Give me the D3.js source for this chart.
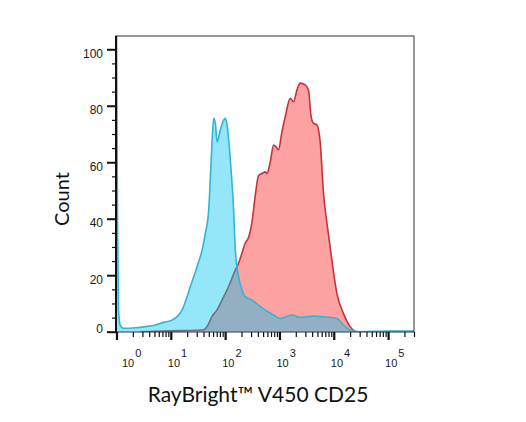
<!DOCTYPE html>
<html>
<head>
<meta charset="utf-8">
<script src="https://cdn.jsdelivr.net/npm/d3@7"></script>
<style>
  html, body { margin: 0; padding: 0; background: #fff; }
  svg { display: block; }
  .ticklbl { font-family: "Liberation Sans", Arial, sans-serif; }
</style>
</head>
<body>
<svg id="chart" width="526" height="422"></svg>
<script>
// ---- data ----
const cyanIntensity = [1, 1.043, 1.088, 1.184, 1.346, 1.462, 2.234, 3.412, 5.21, 7.31, 10.57, 16.14, 18.5, 22.9, 30.4, 37.6, 43.3, 49.8, 53.5, 57.4, 61.5, 66.1, 71.0, 81.7, 93.8, 100.9, 108.4, 124.7, 143.2, 154.2, 177.0, 204.6, 235.0, 311.9, 443.6, 779.8, 1035, 1698, 2410, 4236, 6950, 11400, 15070, 20000, 30550, 100000, 300000];
const cyanCount = [110, 40, 8, 2, 1.2, 1.2, 1.4, 1.8, 2.4, 3.3, 4.1, 7.7, 10.6, 16.0, 23.0, 28.9, 34.8, 43.1, 54.9, 66.8, 75.6, 73.8, 67.2, 71.5, 74.9, 75.6, 73.2, 60.8, 43.1, 28.9, 19.5, 14.8, 12.4, 11.2, 8.9, 5.9, 4.7, 5.9, 5.1, 5.5, 5.2, 4.7, 2.4, 0.6, 0, 0.2, 0.2];
const redIntensity = [2.76, 9.84, 28.3, 39.7, 47.1, 57.4, 71.0, 87.7, 115.9, 154.2, 177, 204.6, 235, 270.4, 311.9, 358.9, 413, 476.4, 548.3, 588.8, 677.5, 779.8, 873, 961.6, 1112, 1279, 1581, 1816, 2099, 2410, 2979, 3428, 3793, 4236, 4887, 5623, 6471, 7656, 9226, 11400, 15070, 20000, 26610, 46670];
const redCount = [0, 0.3, 0.5, 0.6, 2.0, 5.4, 7.7, 11.2, 16.0, 21.9, 24.3, 27.9, 31.4, 33.4, 38.8, 48.3, 55.3, 56.0, 56.6, 56.0, 60.1, 66.1, 65.4, 64.4, 70.8, 76.1, 82.6, 81.4, 85.6, 88.0, 87.4, 85.6, 76.7, 73.8, 73.2, 67.2, 49.0, 37.1, 25.3, 13.6, 6.5, 1.8, 0, 0];
const yMajorTicks = [0, 20, 40, 60, 80, 100];
const yMinorTicks = [5, 10, 15, 25, 30, 35, 45, 50, 55, 65, 70, 75, 85, 90, 95];
const xDecades = [0, 1, 2, 3, 4, 5];
const xLabel = "RayBright™ V450 CD25";
const yLabel = "Count";

// ---- layout ----
const svg = d3.select("#chart");
const plot = { left: 116, right: 414, top: 36, bottom: 332 };

const x = d3.scaleLog().domain([1, 300000]).range([116.5, 414]);
const y = d3.scaleLinear().domain([0, 104.7]).range([331.7, 36]);

const xMajor = xDecades.map(d => Math.pow(10, d));
const xMinor = [];
xDecades.forEach(d => {
  for (let m = 2; m <= 9; m++) {
    const v = m * Math.pow(10, d);
    if (v <= 300000) xMinor.push(v);
  }
});

svg.append("defs").append("clipPath").attr("id", "clip")
  .append("rect")
  .attr("x", plot.left).attr("y", plot.top)
  .attr("width", plot.right - plot.left).attr("height", plot.bottom - plot.top);

const cyanData = cyanIntensity.map((v, i) => ({ v, c: cyanCount[i] }));
const redData = redIntensity.map((v, i) => ({ v, c: redCount[i] }));

const area = d3.area().x(d => x(d.v)).y0(y(0)).y1(d => y(d.c)).curve(d3.curveMonotoneX);
const line = d3.line().x(d => x(d.v)).y(d => y(d.c)).curve(d3.curveMonotoneX);

const g = svg.append("g").attr("clip-path", "url(#clip)");
g.append("path").datum(redData).attr("d", area).attr("fill", "#fda2a2");
g.append("path").datum(redData).attr("d", line).attr("fill", "none")
  .attr("stroke", "#c8323e").attr("stroke-width", 1.6);
g.append("path").datum(cyanData).attr("d", area).attr("fill", "rgba(0,195,238,0.42)");
g.append("path").datum(cyanData).attr("d", line).attr("fill", "none")
  .attr("stroke", "#33b4d6").attr("stroke-width", 1.6);

// frame
svg.append("rect")
  .attr("x", plot.left).attr("y", plot.top)
  .attr("width", plot.right - plot.left).attr("height", plot.bottom - plot.top)
  .attr("fill", "none").attr("stroke", "#333").attr("stroke-width", 1);

// ---- y axis ----
const yAxisMinor = svg.append("g").attr("transform", `translate(${plot.left},0)`)
  .call(d3.axisLeft(y).tickValues(yMinorTicks).tickSize(4).tickFormat(""));
const yAxisMajor = svg.append("g").attr("transform", `translate(${plot.left},0)`)
  .call(d3.axisLeft(y).tickValues(yMajorTicks).tickSize(9).tickFormat(""));
[yAxisMinor, yAxisMajor].forEach(a => {
  a.select(".domain").remove();
  a.selectAll("line").attr("stroke", "#111");
  a.attr("font-family", "Liberation Sans, Arial, sans-serif");
});
yAxisMinor.selectAll("line").attr("stroke-width", 1.2);
yAxisMajor.selectAll("line").attr("stroke-width", 2);
yAxisMajor.selectAll(".tick").append("text")
  .attr("class", "ticklbl")
  .attr("x", -13)
  .attr("y", d => d === 0 ? -3 : 4)
  .attr("dy", "0.35em")
  .attr("text-anchor", "end")
  .attr("fill", "#1a1a1a")
  .attr("font-size", 12)
  .text(d => d);

svg.append("line")
  .attr("x1", plot.left).attr("x2", plot.left)
  .attr("y1", plot.top).attr("y2", plot.bottom + 1)
  .attr("stroke", "#111").attr("stroke-width", 2);

// ---- x axis ----
const xAxisMinor = svg.append("g").attr("transform", `translate(0,${plot.bottom})`)
  .call(d3.axisBottom(x).tickValues(xMinor).tickSize(5).tickFormat(""));
const xAxisMajor = svg.append("g").attr("transform", `translate(0,${plot.bottom})`)
  .call(d3.axisBottom(x).tickValues(xMajor).tickSize(8).tickFormat(""));
[xAxisMinor, xAxisMajor].forEach(a => {
  a.select(".domain").remove();
  a.selectAll("line").attr("stroke", "#111");
  a.attr("font-family", "Liberation Sans, Arial, sans-serif");
});
xAxisMinor.selectAll("line").attr("stroke-width", 1.2);
xAxisMajor.selectAll("line").attr("stroke-width", 2.2);

const lbl = xAxisMajor.selectAll(".tick").append("text")
  .attr("class", "ticklbl")
  .attr("x", (d, i) => i === 0 ? 5 : -3.5)
  .attr("y", 34.7)
  .attr("text-anchor", "start")
  .attr("fill", "#1a1a1a")
  .attr("font-size", 11);
lbl.append("tspan").text("10");
lbl.append("tspan").attr("dx", 1).attr("dy", -9.4).text(d => Math.round(Math.log10(d)));

// ---- axis titles ----
svg.append("text")
  .attr("x", 258).attr("y", 402)
  .attr("text-anchor", "middle")
  .attr("fill", "#111")
  .style("font-family", "Lato, 'Open Sans', sans-serif")
  .style("font-size", "21px")
  .text(xLabel);

svg.append("text")
  .attr("transform", "translate(69,199) rotate(-90)")
  .attr("text-anchor", "middle")
  .attr("fill", "#111")
  .style("font-family", "Lato, 'Open Sans', sans-serif")
  .style("font-size", "20px")
  .text(yLabel);
</script>
</body>
</html>
